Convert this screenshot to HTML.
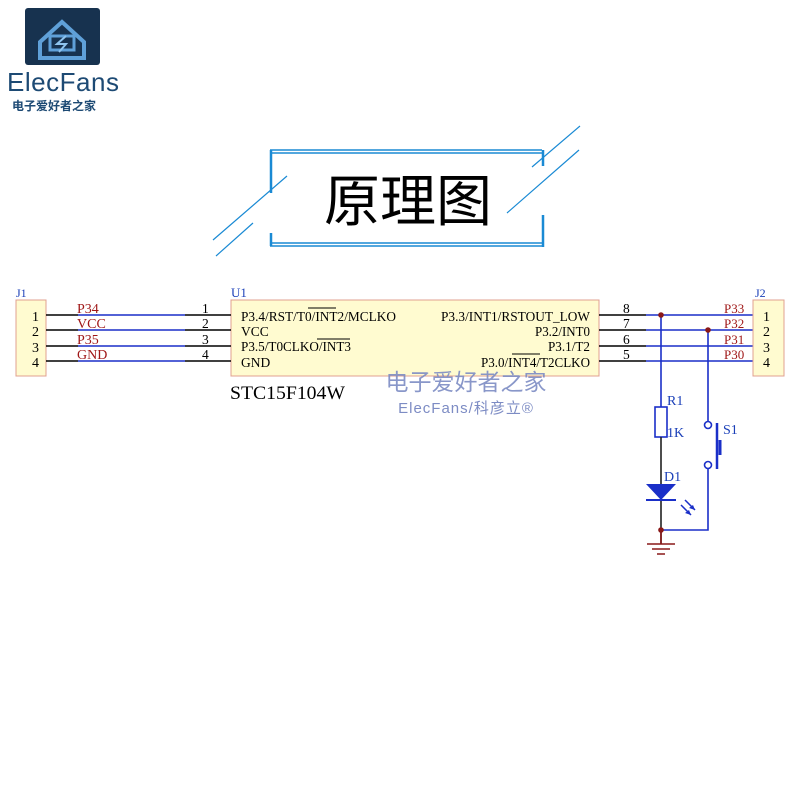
<!DOCTYPE html>
<html><head><meta charset="utf-8"><style>
body{margin:0;background:#fff;width:800px;height:800px;overflow:hidden}
</style></head><body>
<svg width="800" height="800" xmlns="http://www.w3.org/2000/svg" font-family="Liberation Serif, serif">
<!-- logo -->
<rect x="25" y="8" width="75" height="57" rx="3" fill="#17324f"/>
<path d="M40 42 L62 22 L84 42 L84 58 L40 58 Z" fill="none" stroke="#5fa0d8" stroke-width="4"/>
<rect x="50" y="36" width="24" height="14" fill="none" stroke="#5fa0d8" stroke-width="3"/>
<path d="M66 36 L57 44 L66 44 L59 52" fill="none" stroke="#8fc4ee" stroke-width="2"/>
<text x="7" y="91" font-family="Liberation Sans, sans-serif" font-size="26" fill="#1d4a74" textLength="113" letter-spacing="1">ElecFans</text>
<text x="12" y="110" font-family="Liberation Sans, 'Noto Sans CJK SC', sans-serif" font-size="12" font-weight="bold" fill="#1d4a74">电子爱好者之家</text>
<!-- title frame -->
<g stroke="#1a8ad4" fill="none">
<path d="M270 150 L542 150 M270 153 L542 153" stroke-width="1.5"/>
<path d="M271 150 L271 193" stroke-width="2.5"/>
<path d="M270 243 L544 243 M270 246 L544 246" stroke-width="1.5"/>
<path d="M271 233 L271 246" stroke-width="2.5"/>
<path d="M543 150 L543 166 M543 215 L543 247" stroke-width="2.5"/>
<path d="M213 240 L287 176 M216 256 L253 223 M532 167 L580 126 M507 213 L579 150" stroke-width="1.2"/>
</g>
<text x="408" y="221" text-anchor="middle" font-family="'Noto Sans CJK SC', sans-serif" font-size="56" fill="#000">原理图</text>
<!-- J1 -->
<rect x="16" y="300" width="30" height="76" fill="#fffbd0" stroke="#e0a090"/>
<text x="16" y="297" font-size="12" fill="#1a3fb8">J1</text>
<g font-size="14" fill="#000">
<text x="32" y="321">1</text><text x="32" y="336">2</text><text x="32" y="352">3</text><text x="32" y="367">4</text>
</g>
<!-- U1 -->
<rect x="231" y="300" width="368" height="76" fill="#fffbd0" stroke="#e0a090"/>
<text x="231" y="297" font-size="13" fill="#1a3fb8">U1</text>
<g font-size="13.5" fill="#000">
<text x="241" y="321" textLength="155" lengthAdjust="spacingAndGlyphs">P3.4/RST/T0/INT2/MCLKO</text>
<text x="241" y="336">VCC</text>
<text x="241" y="351" textLength="110" lengthAdjust="spacingAndGlyphs">P3.5/T0CLKO/INT3</text>
<text x="241" y="367">GND</text>
<text x="441" y="321" textLength="149" lengthAdjust="spacingAndGlyphs">P3.3/INT1/RSTOUT_LOW</text>
<text x="535" y="336" textLength="55" lengthAdjust="spacingAndGlyphs">P3.2/INT0</text>
<text x="548" y="351" textLength="42" lengthAdjust="spacingAndGlyphs">P3.1/T2</text>
<text x="481" y="367" textLength="109" lengthAdjust="spacingAndGlyphs">P3.0/INT4/T2CLKO</text>
<text x="202" y="313">1</text><text x="202" y="328">2</text><text x="202" y="344">3</text><text x="202" y="359">4</text>
<text x="623" y="313">8</text><text x="623" y="328">7</text><text x="623" y="344">6</text><text x="623" y="359">5</text>
</g>
<g stroke="#000" stroke-width="1">
<path d="M308 308 L336 308 M317 339 L350 339 M512 354 L540 354"/>
</g>
<text x="230" y="399" font-size="19" fill="#000" textLength="115" lengthAdjust="spacingAndGlyphs">STC15F104W</text>
<!-- left wires -->
<g stroke-width="1.6">
<g stroke="#000"><path d="M46 315 L78 315 M46 330 L78 330 M46 346 L78 346 M46 361 L78 361"/>
<path d="M185 315 L231 315 M185 330 L231 330 M185 346 L231 346 M185 361 L231 361"/></g>
<g stroke="#1a2fc8"><path d="M78 315 L185 315 M78 330 L185 330 M78 346 L185 346 M78 361 L185 361"/></g>
</g>
<g font-size="14" fill="#a01818">
<text x="77" y="313">P34</text><text x="77" y="328">VCC</text><text x="77" y="344">P35</text><text x="77" y="359">GND</text>
</g>
<!-- right wires -->
<g stroke-width="1.6">
<g stroke="#000"><path d="M599 315 L646 315 M599 330 L646 330 M599 346 L646 346 M599 361 L646 361"/></g>
<g stroke="#1a2fc8"><path d="M646 315 L753 315 M646 330 L753 330 M646 346 L753 346 M646 361 L753 361"/></g>
</g>
<g font-size="13" fill="#a01818">
<text x="724" y="313">P33</text><text x="724" y="328">P32</text><text x="724" y="344">P31</text><text x="724" y="359">P30</text>
</g>
<!-- J2 -->
<rect x="753" y="300" width="31" height="76" fill="#fffbd0" stroke="#e0a090"/>
<text x="755" y="297" font-size="12" fill="#1a3fb8">J2</text>
<g font-size="14" fill="#000">
<text x="763" y="321">1</text><text x="763" y="336">2</text><text x="763" y="352">3</text><text x="763" y="367">4</text>
</g>
<!-- R1 / D1 -->
<g stroke-width="1.6" fill="none">
<path d="M661 315 L661 407" stroke="#1a2fc8"/>
<rect x="655" y="407" width="12" height="30" stroke="#1a2fc8"/>
<path d="M661 437 L661 484" stroke="#222"/>
<path d="M661 500 L661 530 L661 544" stroke="#222"/>
<path d="M708 330 L708 421 M708 469 L708 530 L661 530" stroke="#1a2fc8"/>
<circle cx="708" cy="425" r="3.5" stroke="#1a2fc8"/>
<circle cx="708" cy="465" r="3.5" stroke="#1a2fc8"/>
<path d="M717 423 L717 469" stroke="#1a2fc8" stroke-width="2.5"/>
<path d="M720 440 L720 455" stroke="#1a2fc8" stroke-width="3"/>
<path d="M646 500 L676 500" stroke="#1a2fc8" stroke-width="2"/>
<path d="M681 505 L691 515 M685 500 L695 510" stroke="#1a2fc8" stroke-width="1.5"/>
</g>
<polygon points="646,484 676,484 661,500" fill="#1a2fc8"/>
<polygon points="691,515 685,513 689,510" fill="#1a2fc8"/>
<polygon points="695,510 689,508 693,505" fill="#1a2fc8"/>
<circle cx="661" cy="315" r="2.8" fill="#8a1818"/>
<circle cx="708" cy="330" r="2.8" fill="#8a1818"/>
<circle cx="661" cy="530" r="2.8" fill="#8a1818"/>
<g stroke="#8a1818" stroke-width="1.6">
<path d="M661 530 L661 544 M647 544 L675 544 M652 549 L670 549 M657 554 L665 554"/>
</g>
<text x="667" y="405" font-size="14" fill="#1a3fb8">R1</text>
<text x="667" y="437" font-size="14" fill="#1a3fb8">1K</text>
<text x="664" y="481" font-size="14" fill="#1a3fb8">D1</text>
<text x="723" y="434" font-size="14" fill="#1a3fb8">S1</text>
<!-- watermark -->
<text x="466" y="390" text-anchor="middle" font-family="'Noto Sans CJK SC', sans-serif" font-size="23" fill="#7d8cc4" opacity="0.9">电子爱好者之家</text>
<text x="466" y="413" text-anchor="middle" font-family="Liberation Sans, 'Noto Sans CJK SC', sans-serif" font-size="15" fill="#7d8cc4" letter-spacing="1">ElecFans/科彦立®</text>
</svg>
</body></html>
